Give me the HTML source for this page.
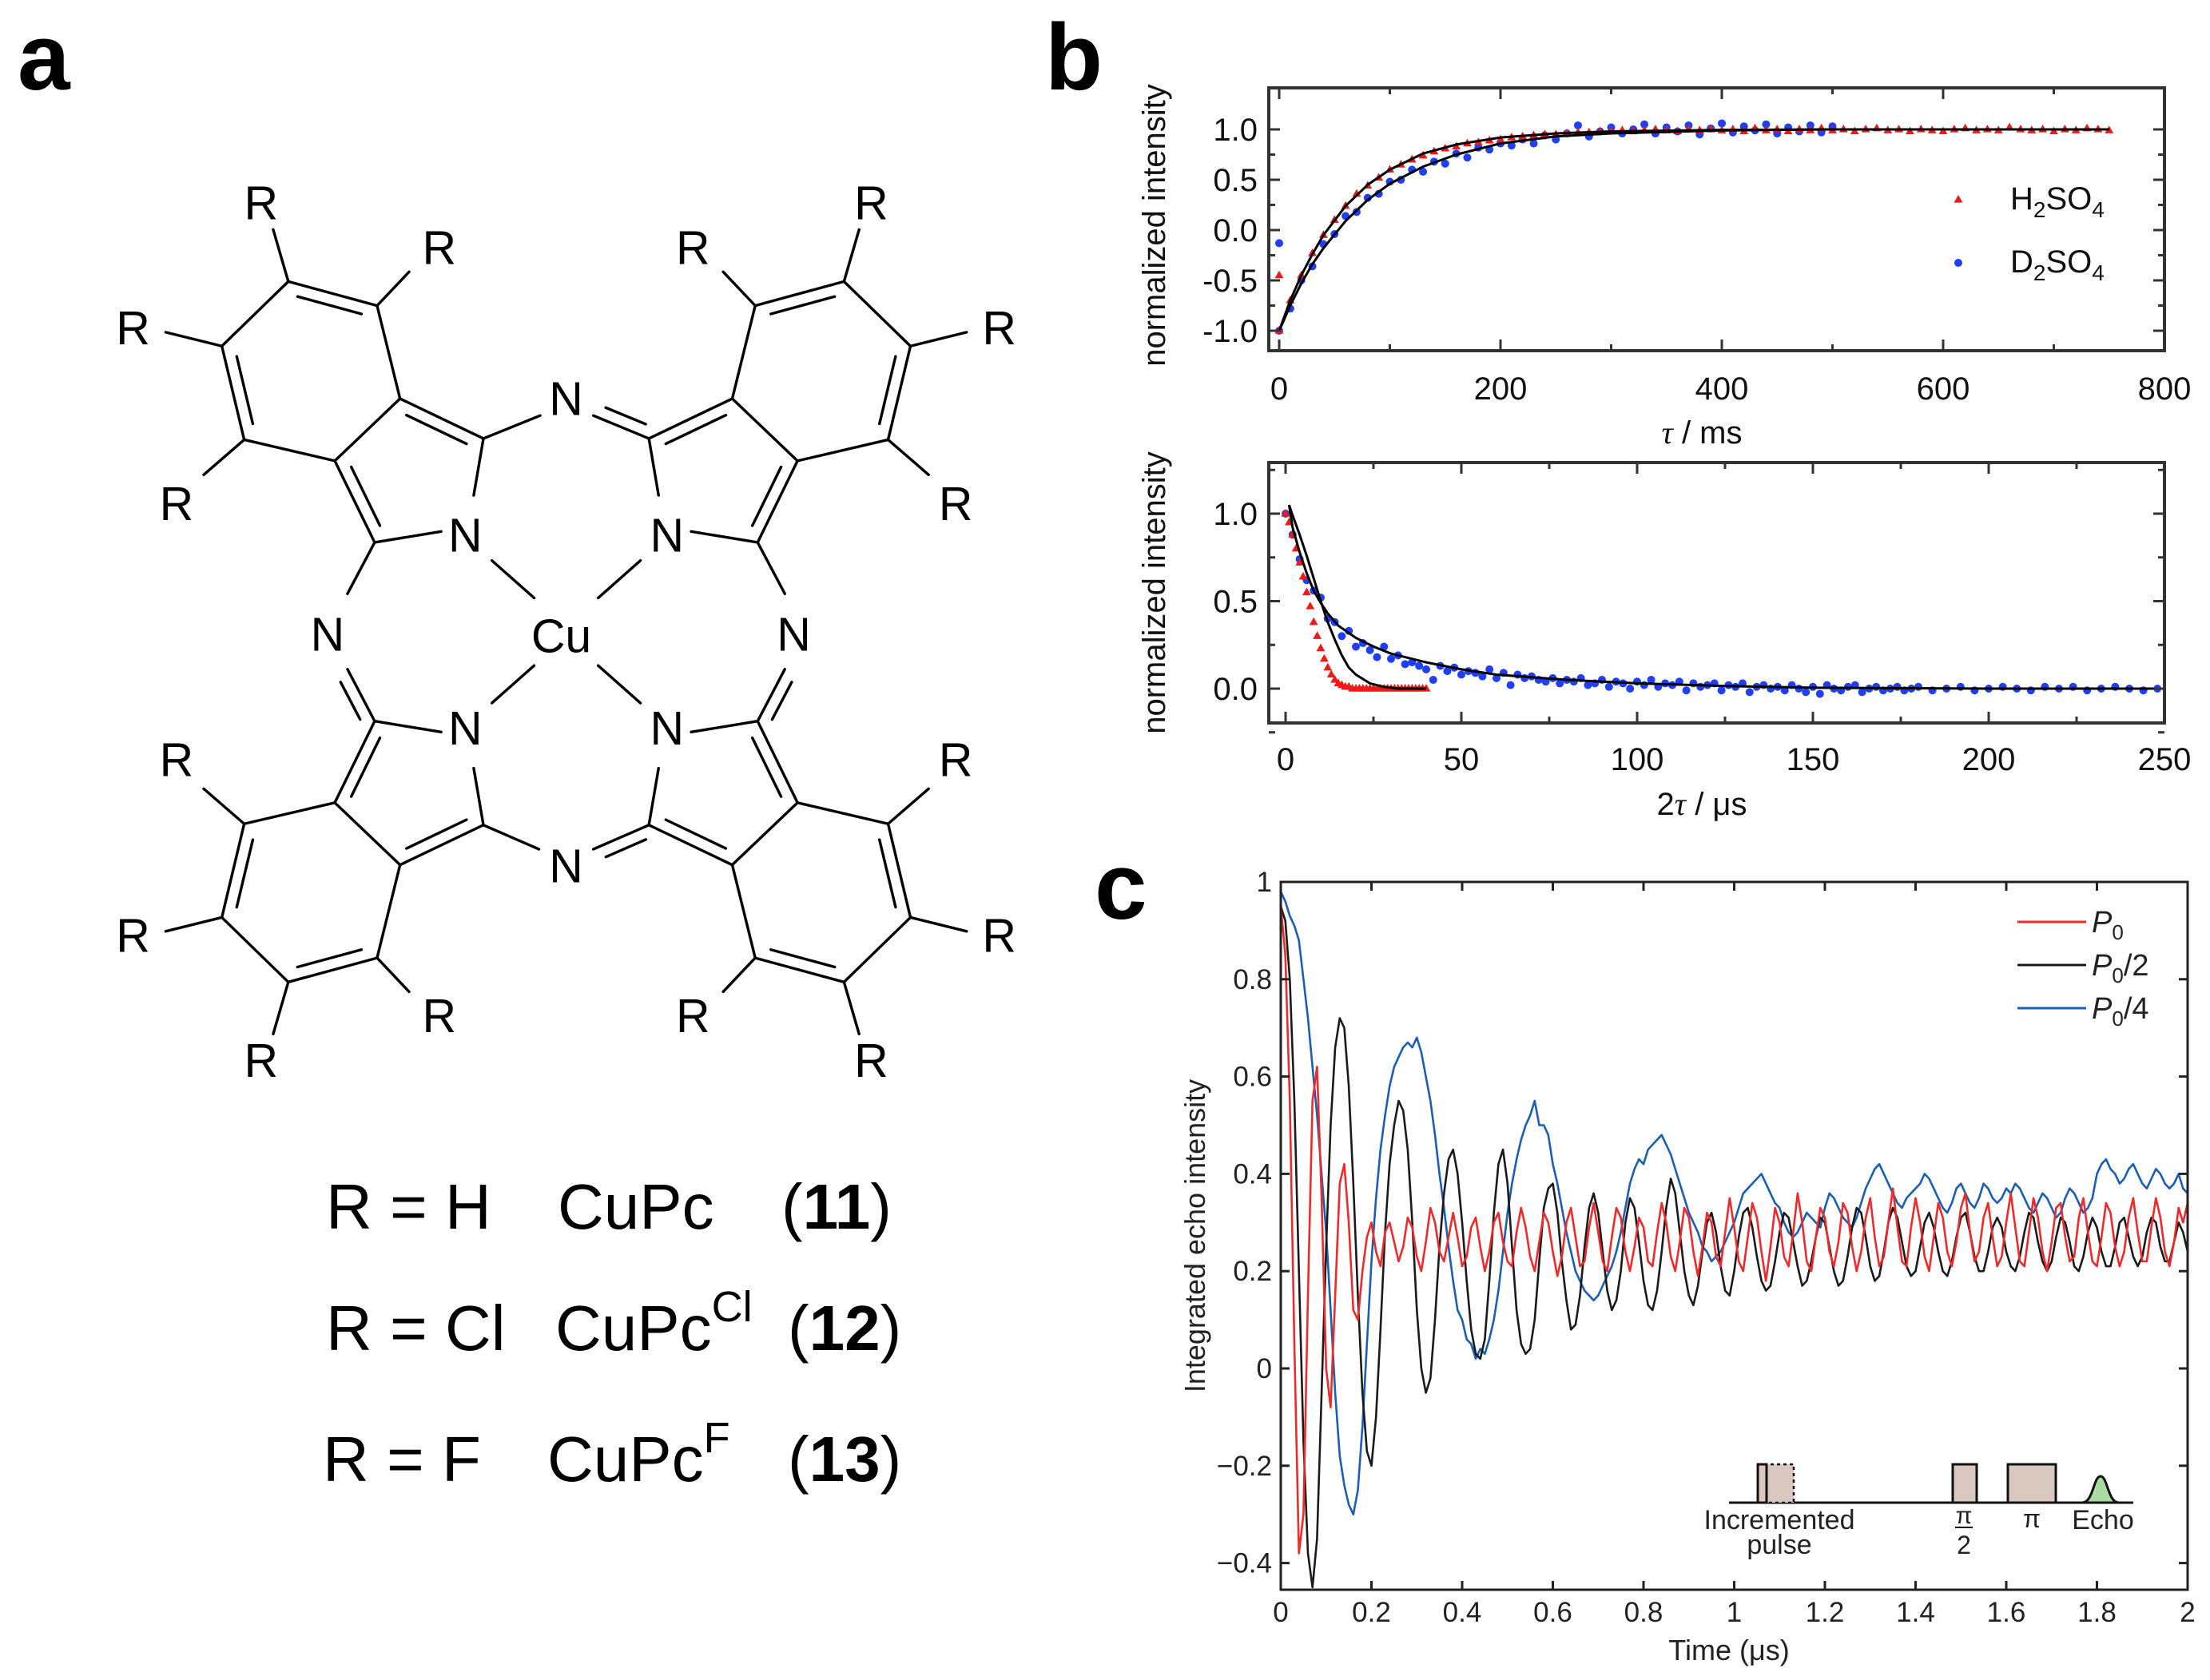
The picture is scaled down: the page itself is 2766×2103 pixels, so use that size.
<!DOCTYPE html>
<html><head><meta charset="utf-8">
<style>
html,body{margin:0;padding:0;background:#fff;}
svg{display:block;}
text{font-family:"Liberation Sans",sans-serif;}
.nar{font-family:"Liberation Sans Narrow","Liberation Sans",sans-serif;}
</style></head>
<body>
<svg id="fig" width="2766" height="2103" viewBox="0 0 2766 2103" xmlns="http://www.w3.org/2000/svg">
<rect width="2766" height="2103" fill="#fff"/>
<text x="22" y="112" font-size="118" font-weight="bold">a</text>
<text x="1308" y="112" font-size="118" font-weight="bold">b</text>
<text x="1370" y="1150" font-size="118" font-weight="bold">c</text>
<g id="mol" transform="translate(100,180) scale(0.756)"></g>
<g class="nar" font-size="80">
  <text x="408" y="1538">R = H</text>
  <text x="698" y="1538">CuPc</text>
  <text x="978" y="1538">(<tspan font-weight="bold">11</tspan>)</text>
  <text x="408" y="1690">R = Cl</text>
  <text x="695" y="1690">CuPc<tspan font-size="54" dy="-36">Cl</tspan></text>
  <text x="986" y="1690">(<tspan font-weight="bold">12</tspan>)</text>
  <text x="404" y="1854">R = F</text>
  <text x="685" y="1854">CuPc<tspan font-size="54" dy="-36">F</tspan></text>
  <text x="986" y="1854">(<tspan font-weight="bold">13</tspan>)</text>
</g>
<g id="b1"></g>
<g id="b2"></g>
<g id="c"></g>
</svg>
<script>
// ---------- Panel b top data ----------
const b1Ticks = [0,200,400,600,800];
const b1YTicks = [-1.0,-0.5,0.0,0.5,1.0];
const b1YTickLabels = ["-1.0","-0.5","0.0","0.5","1.0"];
const hTau = [0,10,20,30,40,50,60,70,80,90,100,110,120,130,140,150,160,170,180,190,200,210,220,230,240,250,260,270,280,290,300,310,320,330,340,350,360,370,380,390,400,410,420,430,440,450,460,470,480,490,500,510,520,530,540,550,560,570,580,590,600,610,620,630,640,650,660,670,680,690,700,710,720,730,740,750,0];
const hInt = [-1.0,-0.70,-0.45,-0.23,-0.05,0.10,0.24,0.36,0.44,0.52,
0.60,0.65,0.70,0.74,0.78,0.81,0.83,0.86,0.87,0.89,
0.90,0.92,0.93,0.94,0.95,0.95,0.96,0.97,0.97,0.98,
0.98,0.99,0.98,0.99,1.00,0.99,0.98,1.00,0.99,1.00,
0.99,1.00,0.98,1.01,0.99,1.00,0.98,1.00,0.99,1.01,
0.99,1.00,0.98,1.00,1.01,0.99,1.00,0.98,1.00,0.99,
0.98,1.00,1.01,0.99,1.00,0.99,1.02,1.00,0.99,1.00,
0.98,1.00,0.99,1.01,1.00,0.99,-0.45];
const dTau = [0,10,20,30,40,50,60,70,80,90,100,110,120,130,140,150,160,170,180,190,200,210,220,230,240,250,260,270,280,290,300,310,320,330,340,350,360,370,380,390,400,410,420,430,440,450,460,470,480,490,500,0];
const dInt = [-1.0,-0.78,-0.50,-0.36,-0.14,-0.04,0.14,0.18,0.32,0.36,
0.48,0.50,0.60,0.58,0.68,0.66,0.76,0.72,0.82,0.80,
0.86,0.84,0.90,0.86,0.94,0.90,0.96,1.04,0.93,0.98,
1.02,0.96,1.00,1.05,0.96,1.02,0.98,1.04,0.95,1.01,
1.06,0.97,1.03,0.99,1.05,0.96,1.02,0.98,1.04,0.97,1.03,-0.13];
const hFitTau = [0,10,20,30,40,60,80,100,130,160,200,250,300,400,500,600,750];
const hFit = [-1.0,-0.70,-0.45,-0.24,-0.05,0.24,0.45,0.60,0.76,0.85,0.92,0.96,0.98,0.995,1.0,1.0,1.0];
const dFitTau = [0,10,20,30,40,60,80,100,130,160,200,250,300,400,500];
const dFit = [-1.0,-0.75,-0.53,-0.34,-0.18,0.09,0.30,0.46,0.63,0.75,0.86,0.93,0.96,0.99,1.0];

// ---------- Panel b bottom data ----------
const b2Ticks = [0,50,100,150,200,250];
const b2YTicks = [0.0,0.5,1.0];
const b2YTickLabels = ["0.0","0.5","1.0"];
const h2Tau = [0,1,2,3,4,5,6,7,8,9,10,11,12,13,14,15,16,17,18,19,20,21,22,23,24,25,26,27,28,29,30,31,32,33,34,35,36,37,38,39,40];
const h2Int = [1.0,0.95,0.88,0.80,0.72,0.64,0.55,0.47,0.38,0.30,0.23,0.17,0.12,0.08,0.05,0.03,0.02,0.01,0.01,0,0,0,0,0,0,0,0,0,0,0,0,0,0,0,0,0,0,0,0,0,0];
const d2Tau = [0,2,4,6,8,10,12,14,16,18,20,22,24,26,28,30,32,34,36,38,40,42,44,46,48,50,52,54,56,58,60,62,64,66,68,70,72,74,76,78,80,82,84,86,88,90,92,94,96,98,100,102,104,106,108,110,112,114,116,118,120,122,124,126,128,130,132,134,136,138,140,142,144,146,148,150,152,154,156,158,160,162,164,166,168,170,172,174,176,178,180,184,188,192,196,200,204,208,212,216,220,224,228,232,236,240,244,248];
const d2Int = [1.0,0.88,0.74,0.62,0.56,0.52,0.40,0.38,0.30,0.33,0.24,0.26,0.22,0.18,0.24,0.17,0.19,0.14,0.15,0.13,0.11,0.05,0.13,0.10,0.12,0.08,0.10,0.09,0.07,0.11,0.06,0.09,0.02,0.08,0.06,0.07,0.05,0.04,0.06,0.03,0.05,0.04,0.06,0.02,0.03,0.05,0.01,0.04,0.03,0.00,0.04,0.02,0.05,0.01,0.03,0.02,0.04,-0.01,0.03,0.01,0.02,0.03,-0.01,0.02,0.01,0.03,-0.02,0.01,0.02,0.00,0.01,-0.01,0.02,0.00,-0.02,0.01,-0.03,0.02,0.00,-0.01,0.01,0.02,-0.02,0.00,0.01,-0.01,0.00,0.01,-0.01,0.00,0.01,-0.01,0.00,0.01,-0.01,0.00,0.01,0.00,-0.01,0.01,0.00,0.01,-0.01,0.00,0.01,0.00,-0.01,0.00];
const h2FitTau = [1,2,4,6,8,10,12,14,16,18,20,24,28,32,40];
const h2Fit = [1.05,0.99,0.88,0.76,0.63,0.50,0.38,0.28,0.19,0.12,0.08,0.03,0.01,0.0,0.0];
const d2FitTau = [1,2,4,6,8,10,12,15,20,25,30,40,50,60,80,100,125,150,200,250];
const d2Fit = [1.05,0.92,0.78,0.66,0.56,0.49,0.43,0.36,0.29,0.24,0.20,0.15,0.11,0.08,0.05,0.03,0.015,0.005,0,0];

// ---------- Panel c data ----------
const cXTicks = [0,0.2,0.4,0.6,0.8,1,1.2,1.4,1.6,1.8,2];
const cXTickLabels = ["0","0.2","0.4","0.6","0.8","1","1.2","1.4","1.6","1.8","2"];
const cYTicks = [-0.4,-0.2,0,0.2,0.4,0.6,0.8,1];
const cYTickLabels = ["\u22120.4","\u22120.2","0","0.2","0.4","0.6","0.8","1"];
const cTimeStep = 0.01;
const p0 = [0.95,0.85,0.55,0.05,-0.38,-0.30,0.15,0.55,0.62,0.35,0.00,-0.08,0.15,0.38,0.42,0.30,0.12,0.10,0.20,0.27,0.30,
0.24,0.21,0.28,0.30,0.26,0.22,0.25,0.31,0.29,0.23,0.20,0.26,0.33,0.30,0.24,0.22,0.27,0.32,0.27,0.21,
0.23,0.29,0.31,0.25,0.20,0.24,0.30,0.32,0.26,0.22,0.21,0.28,0.33,0.29,0.23,0.20,0.26,0.32,0.30,0.24,
0.19,0.23,0.30,0.33,0.27,0.21,0.22,0.29,0.34,0.28,0.22,0.20,0.27,0.33,0.31,0.24,0.20,0.25,0.31,0.29,
0.22,0.21,0.28,0.34,0.30,0.23,0.20,0.26,0.33,0.31,0.24,0.19,0.25,0.32,0.30,0.23,0.21,0.28,0.35,0.29,
0.22,0.20,0.27,0.34,0.31,0.24,0.18,0.25,0.33,0.30,0.23,0.21,0.28,0.36,0.30,0.22,0.20,0.27,0.33,0.31,
0.24,0.21,0.26,0.34,0.32,0.25,0.20,0.24,0.31,0.35,0.27,0.21,0.23,0.30,0.37,0.29,0.22,0.21,0.29,0.35,
0.30,0.23,0.20,0.27,0.34,0.31,0.24,0.21,0.26,0.33,0.36,0.28,0.22,0.24,0.31,0.34,0.27,0.21,0.23,0.30,
0.36,0.29,0.22,0.21,0.28,0.35,0.31,0.24,0.20,0.26,0.33,0.34,0.27,0.22,0.23,0.31,0.35,0.28,0.22,0.21,
0.27,0.34,0.32,0.25,0.21,0.24,0.31,0.35,0.28,0.22,0.22,0.29,0.35,0.31,0.24,0.21,0.26,0.33,0.30,0.34];
const p0half = [0.95,0.92,0.80,0.55,0.20,-0.15,-0.38,-0.45,-0.35,-0.05,0.25,0.50,0.66,0.72,0.70,0.58,0.38,0.15,-0.05,-0.17,-0.20,
-0.10,0.08,0.28,0.42,0.50,0.55,0.53,0.45,0.30,0.12,0.00,-0.05,-0.02,0.10,0.25,0.36,0.43,0.45,0.40,0.30,
0.18,0.08,0.03,0.02,0.06,0.18,0.32,0.42,0.45,0.38,0.25,0.12,0.05,0.03,0.04,0.10,0.22,0.33,0.37,0.38,
0.32,0.22,0.14,0.08,0.09,0.15,0.25,0.33,0.36,0.32,0.24,0.16,0.12,0.14,0.20,0.30,0.35,0.33,0.26,0.18,
0.13,0.12,0.16,0.24,0.33,0.39,0.36,0.28,0.20,0.15,0.13,0.17,0.24,0.30,0.32,0.28,0.21,0.16,0.15,0.20,
0.27,0.32,0.33,0.29,0.23,0.18,0.16,0.17,0.22,0.28,0.32,0.31,0.26,0.21,0.17,0.18,0.22,0.27,0.31,0.30,
0.25,0.20,0.17,0.18,0.23,0.29,0.33,0.32,0.27,0.21,0.18,0.19,0.24,0.30,0.33,0.31,0.26,0.21,0.19,0.20,
0.25,0.30,0.32,0.29,0.24,0.20,0.19,0.22,0.27,0.31,0.32,0.28,0.23,0.20,0.20,0.24,0.29,0.31,0.29,0.24,
0.21,0.20,0.23,0.28,0.32,0.31,0.26,0.22,0.20,0.22,0.27,0.31,0.30,0.26,0.21,0.20,0.23,0.28,0.31,0.29,
0.24,0.21,0.21,0.25,0.30,0.31,0.27,0.23,0.21,0.23,0.28,0.31,0.30,0.25,0.22,0.22,0.26,0.30,0.28,0.24];
const p0quarter = [0.98,0.96,0.93,0.91,0.88,0.80,0.72,0.62,0.52,0.40,0.28,0.12,-0.05,-0.18,-0.24,-0.28,-0.30,-0.25,-0.12,0.05,0.22,
0.35,0.45,0.52,0.58,0.62,0.64,0.66,0.67,0.66,0.68,0.65,0.60,0.55,0.48,0.40,0.33,0.25,0.18,0.12,0.10,
0.06,0.05,0.02,0.04,0.03,0.06,0.10,0.16,0.24,0.32,0.38,0.43,0.47,0.50,0.52,0.55,0.50,0.50,0.48,0.42,
0.38,0.33,0.28,0.24,0.20,0.18,0.16,0.15,0.14,0.15,0.17,0.19,0.21,0.24,0.28,0.33,0.38,0.41,0.43,0.42,
0.45,0.46,0.47,0.48,0.46,0.44,0.41,0.38,0.35,0.32,0.30,0.28,0.25,0.24,0.22,0.23,0.24,0.26,0.28,0.30,
0.33,0.36,0.37,0.38,0.39,0.40,0.38,0.36,0.34,0.33,0.30,0.28,0.27,0.28,0.30,0.32,0.31,0.30,0.29,0.33,
0.36,0.35,0.33,0.31,0.30,0.29,0.31,0.34,0.37,0.39,0.41,0.42,0.40,0.38,0.36,0.34,0.33,0.35,0.36,0.37,
0.38,0.40,0.39,0.37,0.35,0.33,0.32,0.34,0.37,0.38,0.36,0.34,0.33,0.35,0.38,0.37,0.35,0.34,0.35,0.37,
0.36,0.38,0.37,0.35,0.33,0.32,0.34,0.36,0.35,0.33,0.31,0.32,0.35,0.37,0.36,0.34,0.32,0.33,0.35,0.40,
0.42,0.43,0.41,0.40,0.38,0.39,0.41,0.42,0.40,0.38,0.37,0.39,0.41,0.40,0.38,0.37,0.38,0.40,0.37,0.36];

const NS = "http://www.w3.org/2000/svg";
function mk(tag, attrs, parent){const e=document.createElementNS(NS,tag);for(const k in attrs)e.setAttribute(k,attrs[k]);parent.appendChild(e);return e;}
function lin(d0,d1,r0,r1){return v=>r0+(v-d0)*(r1-r0)/(d1-d0);}

// ---------- Molecule ----------
(function(){
  const g=document.getElementById('mol');
  const CX=1610, CY=1616;
  const tl={A:[345,228],B:[492,268],C:[530,422],D:[422,525],E:[272,490],F:[235,335],Ca1:[668,488],Ca2:[488,660]};
  const benzC=[383,378], pyrC=[550,544];
  const quads=[[1,1],[-1,1],[1,-1],[-1,-1]];
  function tr(p,q){return [q[0]===1?p[0]:CX-p[0], q[1]===1?p[1]:CY-p[1]];}
  function line(p,r){
    const l=mk('line',{x1:p[0],y1:p[1],x2:r[0],y2:r[1],stroke:'#000','stroke-width':4.5,'stroke-linecap':'round'},g);
    
    
  }
  function dbl(p,r,c){
    line(p,r);
    const dx=r[0]-p[0],dy=r[1]-p[1],L=Math.hypot(dx,dy);
    let nx=-dy/L,ny=dx/L;
    const mx=(p[0]+r[0])/2,my=(p[1]+r[1])/2;
    if((c[0]-mx)*nx+(c[1]-my)*ny<0){nx=-nx;ny=-ny;}
    const o=20,s=0.14;
    line([p[0]+dx*s+nx*o,p[1]+dy*s+ny*o],[r[0]-dx*s+nx*o,r[1]-dy*s+ny*o]);
  }
  function txt(p,s){
    const t=mk('text',{x:p[0],y:p[1]+27,'font-size':78,'text-anchor':'middle'},g);
    t.textContent=s;
    
    
  }
  quads.forEach(q=>{
    const P={};for(const k in tl)P[k]=tr(tl[k],q);
    const bc=tr(benzC,q), pc=tr(pyrC,q);
    dbl(P.A,P.B,bc); line(P.B,P.C); line(P.C,P.D); line(P.D,P.E); dbl(P.E,P.F,bc); line(P.F,P.A);
    dbl(P.C,P.Ca1,pc); dbl(P.D,P.Ca2,pc);
    line(P.Ca1,tr([652,582],q)); line(P.Ca2,tr([598,642],q));
    line(tr([682,690],q),tr([752,752],q));
    line(P.A,tr([320,142],q)); line(P.B,tr([545,212],q)); line(P.F,tr([142,312],q)); line(P.E,tr([205,548],q));
    txt(tr([300,98],q),'R'); txt(tr([595,172],q),'R'); txt(tr([88,305],q),'R'); txt(tr([160,596],q),'R');
    txt(tr([638,648],q),'N');
  });
  const far=[5000,-5000];
  // meso bridges
  line([668,488],[762,450]); dbl([850,450],[942,488],[805,-200]);
  line([488,660],[443,745]); dbl([443,870],[488,956],[-200,808]);
  line([1122,660],[1167,745]); dbl([1167,870],[1122,956],[1800,808]);
  line([668,1128],[760,1168]); dbl([850,1168],[942,1128],[805,1800]);
  txt([805,422],'N'); txt([410,812],'N'); txt([1182,812],'N'); txt([805,1196],'N');
  txt([797,815],'Cu');
})();

// ---------- generic axis helpers ----------
function boxAxes(g,x0,y0,x1,y1,col,w){
  const r=mk('rect',{x:x0,y:y0,width:x1-x0,height:y1-y0,fill:'none',stroke:col,'stroke-width':w},g);
  
  
}
function tick(g,x1,y1,x2,y2,col,w){
  const t=mk('line',{x1,y1,x2,y2,stroke:col,'stroke-width':w},g);
  
  
}
function label(g,x,y,s,attrs,name){
  const t=mk('text',Object.assign({x,y},attrs),g);
  t.textContent=s;
  
  
  return t;
}
function polyline(g,xs,ys,sx,sy,col,w,name){
  let d='';
  for(let i=0;i<Math.min(xs.length,ys.length);i++)d+=(i?'L':'M')+sx(xs[i]).toFixed(1)+' '+sy(ys[i]).toFixed(1);
  const p=mk('path',{d,fill:'none',stroke:col,'stroke-width':w,'stroke-linejoin':'round'},g);
  
  
}
function tri(g,x,y,s,col){
  const p=mk('polygon',{points:`${x},${y-s} ${x-s*0.9},${y+s*0.6} ${x+s*0.9},${y+s*0.6}`,fill:col},g);
  
  
}
function dot(g,x,y,r,col){
  const c=mk('circle',{cx:x,cy:y,r,fill:col},g);
  
  
}

// ---------- Panel b top ----------
(function(){
  const g=document.getElementById('b1');
  const X0=1588,X1=2709,Y0=110,Y1=439;
  const sx=lin(0,800,1601,2709), sy=lin(-1,1,414,162);
  const nf={'font-size':40,'text-anchor':'middle',class:'nar',fill:'#111'};
  dInt.forEach((v,i)=>dot(g,sx(dTau[i]),sy(v),5,'#1f3ff5'));
  hInt.forEach((v,i)=>tri(g,sx(hTau[i]),sy(v),6,'#f01818'));
  polyline(g,dFitTau,dFit,sx,sy,'#000',3,'d2so4-fit-line');
  polyline(g,hFitTau,hFit,sx,sy,'#000',3,'h2so4-fit-line');
  boxAxes(g,X0,Y0,X1,Y1,'#333',4);
  for(let v=0;v<=800;v+=100){const L=v%200===0?14:8;tick(g,sx(v),Y1,sx(v),Y1-L,'#333',3);tick(g,sx(v),Y0,sx(v),Y0+L,'#333',3);}
  for(let v=-1;v<=1.001;v+=0.25){const L=Math.abs(v*2-Math.round(v*2))<1e-6?14:8;tick(g,X0,sy(v),X0+L,sy(v),'#333',3);tick(g,X1,sy(v),X1-L,sy(v),'#333',3);}
  b1Ticks.forEach(v=>label(g,sx(v),500,String(v),nf,'x-tick-label'));
  b1YTicks.forEach((v,i)=>label(g,1574,sy(v)+14,b1YTickLabels[i],Object.assign({},nf,{'text-anchor':'end'}),'y-tick-label'));
  const xt=label(g,2130,555,'',nf,'x-axis-title');
  xt.innerHTML='<tspan font-style="italic" font-family="Liberation Serif">\u03c4</tspan> / ms';
  label(g,0,0,'normalized intensity',Object.assign({},nf,{transform:'translate(1458,282) rotate(-90)'}),'y-axis-title');
  tri(g,2451,250,6,'#f01818');
  dot(g,2451,329,5,'#1f3ff5');
  const l1=label(g,2516,262,'',Object.assign({},nf,{'text-anchor':'start'}),'legend-h2so4');
  l1.innerHTML='H<tspan font-size="28" dy="10">2</tspan><tspan dy="-10">SO</tspan><tspan font-size="28" dy="10">4</tspan>';
  const l2=label(g,2516,341,'',Object.assign({},nf,{'text-anchor':'start'}),'legend-d2so4');
  l2.innerHTML='D<tspan font-size="28" dy="10">2</tspan><tspan dy="-10">SO</tspan><tspan font-size="28" dy="10">4</tspan>';
})();

// ---------- Panel b bottom ----------
(function(){
  const g=document.getElementById('b2');
  const X0=1588,X1=2709,Y0=579,Y1=905;
  const sx=lin(0,250,1609,2709), sy=lin(0,1,862,643);
  const nf={'font-size':40,'text-anchor':'middle',class:'nar',fill:'#111'};
  d2Int.forEach((v,i)=>dot(g,sx(d2Tau[i]),sy(v),5,'#1f3ff5'));
  h2Int.forEach((v,i)=>tri(g,sx(h2Tau[i]),sy(v),6,'#f01818'));
  polyline(g,d2FitTau,d2Fit,sx,sy,'#000',3,'d2so4-fit-line');
  polyline(g,h2FitTau,h2Fit,sx,sy,'#000',3,'h2so4-fit-line');
  boxAxes(g,X0,Y0,X1,Y1,'#333',4);
  for(let v=0;v<=250;v+=25){const L=v%50===0?14:8;tick(g,sx(v),Y1,sx(v),Y1-L,'#333',3);tick(g,sx(v),Y0,sx(v),Y0+L,'#333',3);}
  for(let v=-0.25;v<=1.26;v+=0.25){const L=Math.abs(v*2-Math.round(v*2))<1e-6?14:8;tick(g,X0,sy(v),X0+L,sy(v),'#333',3);tick(g,X1,sy(v),X1-L,sy(v),'#333',3);}
  b2Ticks.forEach(v=>label(g,sx(v),964,String(v),nf,'x-tick-label'));
  b2YTicks.forEach((v,i)=>label(g,1574,sy(v)+14,b2YTickLabels[i],Object.assign({},nf,{'text-anchor':'end'}),'y-tick-label'));
  const xt=label(g,2130,1020,'',nf,'x-axis-title');
  xt.innerHTML='2<tspan font-style="italic" font-family="Liberation Serif">\u03c4</tspan> / \u03bcs';
  label(g,0,0,'normalized intensity',Object.assign({},nf,{transform:'translate(1458,742) rotate(-90)'}),'y-axis-title');
})();

// ---------- Panel c ----------
(function(){
  const g=document.getElementById('c');
  const X0=1603,X1=2738,Y0=1104,Y1=1990;
  const sx=lin(0,2,1603,2738), sy=lin(0,1,1713,1104);
  const nf={'font-size':35,'text-anchor':'middle',fill:'#222'};
  const tq=p0.map((_,i)=>i*cTimeStep);
  polyline(g,tq,p0quarter,sx,sy,'#1a5fb4',2.6,'p0-quarter-line');
  polyline(g,tq,p0half,sx,sy,'#1a1a1a',2.6,'p0-half-line');
  polyline(g,tq,p0,sx,sy,'#ee2a2a',2.6,'p0-line');
  // pulse sequence inset
  const ins=mk('g',{},g);
  
  
  mk('line',{x1:2164,y1:1881,x2:2670,y2:1881,stroke:'#111','stroke-width':3},ins);
  mk('rect',{x:2200,y:1833,width:45,height:48,fill:'#d8c8c0',stroke:'#111','stroke-width':2.5,'stroke-dasharray':'4 4'},ins);
  mk('rect',{x:2200,y:1833,width:11,height:48,fill:'#d8c8c0',stroke:'#111','stroke-width':3},ins);
  mk('rect',{x:2444,y:1833,width:30,height:48,fill:'#d8c8c0',stroke:'#111','stroke-width':3},ins);
  mk('rect',{x:2513,y:1833,width:60,height:48,fill:'#d8c8c0',stroke:'#111','stroke-width':3},ins);
  mk('path',{d:'M2606 1881 C2620 1881 2620 1848 2629 1848 C2638 1848 2638 1881 2652 1881 Z',fill:'#a8dca0',stroke:'#111','stroke-width':3},ins);
  label(ins,2227,1914,'Incremented',Object.assign({},nf,{'font-size':34}),'inset-label');
  label(ins,2227,1945,'pulse',Object.assign({},nf,{'font-size':34}),'inset-label');
  label(ins,2458,1907,'\u03c0',Object.assign({},nf,{'font-size':30}),'inset-label');
  mk('line',{x1:2447,y1:1912,x2:2469,y2:1912,stroke:'#111','stroke-width':2},ins);
  label(ins,2458,1945,'2',Object.assign({},nf,{'font-size':32}),'inset-label');
  label(ins,2543,1912,'\u03c0',Object.assign({},nf,{'font-size':32}),'inset-label');
  label(ins,2632,1914,'Echo',Object.assign({},nf,{'font-size':34}),'inset-label');
  boxAxes(g,X0,Y0,X1,Y1,'#222',3);
  cXTicks.forEach((v,i)=>{tick(g,sx(v),Y1,sx(v),Y1-11,'#222',3);tick(g,sx(v),Y0,sx(v),Y0+11,'#222',3);label(g,sx(v),2030,cXTickLabels[i],nf,'x-tick-label');});
  cYTicks.forEach((v,i)=>{tick(g,X0,sy(v),X0+11,sy(v),'#222',3);tick(g,X1,sy(v),X1-11,sy(v),'#222',3);label(g,1592,sy(v)+12,cYTickLabels[i],Object.assign({},nf,{'text-anchor':'end'}),'y-tick-label');});
  label(g,2164,2078,'Time (\u03bcs)',Object.assign({},nf,{'font-size':36}),'x-axis-title');
  label(g,0,0,'Integrated echo intensity',Object.assign({},nf,{'font-size':36,transform:'translate(1508,1547) rotate(-90)'}),'y-axis-title');
  const leg=[['#ee2a2a','','legend-p0'],['#1a1a1a','/2','legend-p0-half'],['#1a5fb4','/4','legend-p0-quarter']];
  leg.forEach((L,i)=>{
    const y=1154+i*54;
    const ln=mk('line',{x1:2525,y1:y,x2:2611,y2:y,stroke:L[0],'stroke-width':3},g);
    
    
    const t=label(g,2618,y+13,'',Object.assign({},nf,{'text-anchor':'start','font-size':38}),L[2]);
    t.innerHTML='<tspan font-style="italic">P</tspan><tspan font-size="26" dy="9">0</tspan><tspan dy="-9">'+L[1]+'</tspan>';
  });
})();
</script>
</body></html>
